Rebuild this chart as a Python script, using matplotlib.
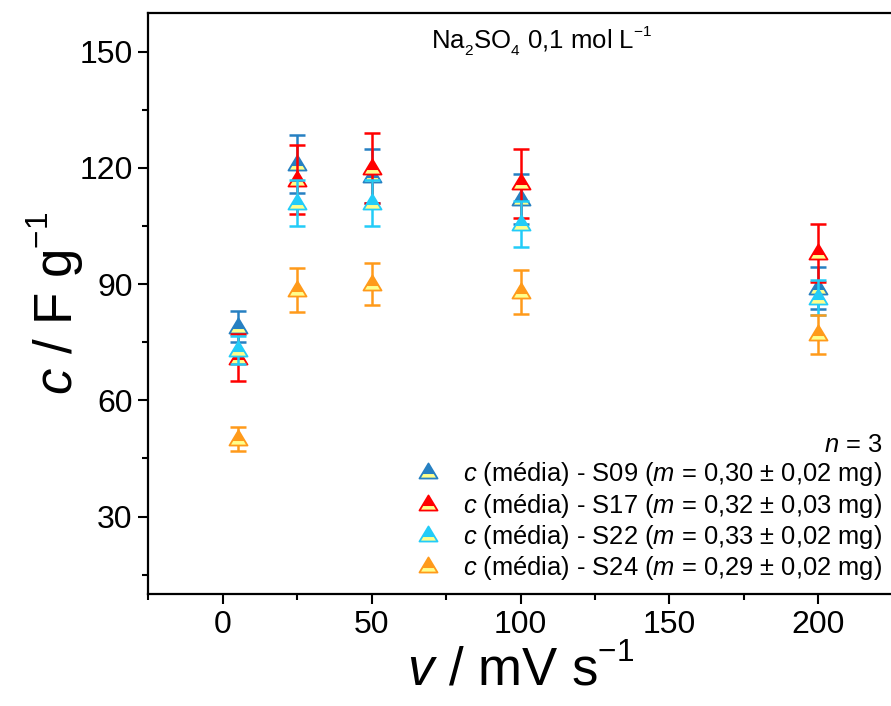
import numpy as np
import matplotlib
matplotlib.use("Agg")
import matplotlib.pyplot as plt
import matplotlib._mathtext as _mt
from matplotlib.path import Path
from matplotlib.legend_handler import HandlerTuple
from matplotlib.ticker import MultipleLocator

plt.rcParams['font.family'] = ['Liberation Sans', 'DejaVu Sans']
plt.rcParams['mathtext.fontset'] = 'custom'
plt.rcParams['mathtext.rm'] = 'Liberation Sans'
plt.rcParams['mathtext.it'] = 'Liberation Sans:italic'
plt.rcParams['mathtext.bf'] = 'Liberation Sans:bold'
plt.rcParams['mathtext.sf'] = 'Liberation Sans'
# Origin-like scripts: a bit smaller and further shifted
_mt.SHRINK_FACTOR = 0.6
_mt.FontConstantsBase.sup1 = 0.85
_mt.FontConstantsBase.sub1 = 0.5

# ---- data ----
scan_rate = [5, 25, 50, 100, 200]
series_names = ['S09', 'S17', 'S22', 'S24']
masses = ['0,30 $\\pm$ 0,02', '0,32 $\\pm$ 0,03', '0,33 $\\pm$ 0,02', '0,29 $\\pm$ 0,02']
c_S09 = [79, 121, 118, 112, 89]
e_S09 = [4, 7.6, 7, 6.5, 5.5]
c_S17 = [71, 117, 120, 116, 98]
e_S17 = [6, 9, 9, 9, 7.5]
c_S22 = [73, 111, 111, 105.5, 86.5]
e_S22 = [3.5, 6, 6, 6, 4.5]
c_S24 = [50, 88.5, 90, 88, 77]
e_S24 = [3, 5.7, 5.5, 5.7, 5]
colors = ['#2680C2', '#FF0000', '#22CCF8', '#FF9A1A']
yellow = '#FFFF8C'

values = [c_S09, c_S17, c_S22, c_S24]
errors = [e_S09, e_S17, e_S22, e_S24]

# ---- custom markers ----
tri_v = [(0, 1), (-1, -0.667), (1, -0.667), (0, 1)]
tri = Path(tri_v, [Path.MOVETO, Path.LINETO, Path.LINETO, Path.CLOSEPOLY])
yb = -0.17
hw = (1 - yb) / 1.667
trap_v = [(-1, -0.667), (1, -0.667), (hw, yb), (-hw, yb), (-1, -0.667)]
trap = Path(trap_v, [Path.MOVETO, Path.LINETO, Path.LINETO, Path.LINETO, Path.CLOSEPOLY])
MS = 13

fig = plt.figure(figsize=(8.91, 7.06), dpi=100)
ax = fig.add_axes([148.3 / 891, 1 - 594 / 706, (892.7 - 148.3) / 891, (594 - 13) / 706])

handles = []
labels = []
for i, (name, vals, errs, col, m) in enumerate(zip(series_names, values, errors, colors, masses)):
    z = 3 + i
    ax.errorbar(scan_rate, vals, yerr=errs, fmt='none', ecolor=col, elinewidth=1.8,
                capsize=6, capthick=1.8, zorder=z)
    l1, = ax.plot(scan_rate, vals, linestyle='none', marker=tri, markersize=MS,
                  markerfacecolor=col, markeredgecolor='none', zorder=z + 0.1)
    l2, = ax.plot(scan_rate, vals, linestyle='none', marker=trap, markersize=MS,
                  markerfacecolor=yellow, markeredgecolor='none', zorder=z + 0.2)
    l3, = ax.plot(scan_rate, vals, linestyle='none', marker=tri, markersize=MS,
                  markerfacecolor='none', markeredgecolor=col, markeredgewidth=1.3, zorder=z + 0.3)
    handles.append((l1, l2, l3))
    labels.append('$c$ (média) - %s ($m$ = %s mg)' % (name, m))

ax.set_xlim(-25, 225)
ax.set_ylim(10, 160)
ax.xaxis.set_major_locator(MultipleLocator(50))
ax.xaxis.set_minor_locator(MultipleLocator(25))
ax.yaxis.set_major_locator(MultipleLocator(30))
ax.yaxis.set_minor_locator(MultipleLocator(15))
ax.tick_params(which='major', direction='out', length=7.2, width=1.5, labelsize=23, pad=4)
ax.tick_params(which='minor', direction='out', length=4, width=1.5)
ax.tick_params(top=False, right=False)
for s in ax.spines.values():
    s.set_linewidth(1.6)

ax.set_xlabel('$v$ / mV s$^{-1}$', fontsize=38, labelpad=4)
ax.set_ylabel('$c$ / F g$^{-1}$', fontsize=38, labelpad=-4)

ax.text(0.529, 0.938, 'Na$_2$SO$_4$ 0,1 mol L$^{-1}$', transform=ax.transAxes,
        ha='center', va='baseline', fontsize=18.5)

leg = ax.legend(handles, labels, handler_map={tuple: HandlerTuple(ndivide=1)},
                loc='lower right', bbox_to_anchor=(0.986, 0.02), frameon=False,
                fontsize=18.4, title='$n$ = 3', title_fontsize=18.4, alignment='right',
                handlelength=1.2, handletextpad=0.8, labelspacing=0.13, borderpad=0,
                borderaxespad=0)

fig.savefig('out.png', dpi=100)
